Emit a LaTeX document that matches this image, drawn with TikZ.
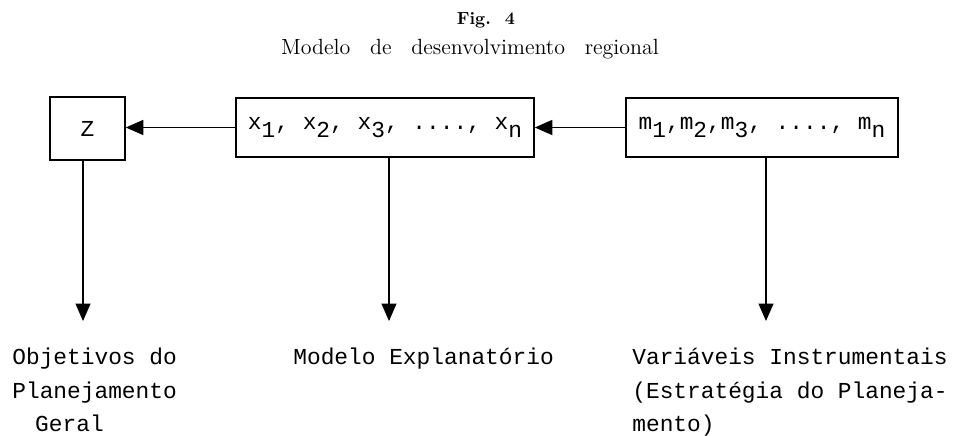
\documentclass[tikz,border=0pt]{standalone}
\usepackage{fontspec}
\setmonofont{Liberation Mono}
\usetikzlibrary{arrows.meta,positioning}
\newcommand\lowsub[1]{\raisebox{-4.5pt}{#1}}
\tikzset{
 box/.style={draw,line width=0.9pt,inner sep=0pt,font=\ttfamily\fontsize{13}{19}\selectfont},
 lbl/.style={inner sep=0pt,align=left,anchor=north west,font=\ttfamily\fontsize{13}{19}\selectfont},
 arr/.style={-{Triangle[length=3.5mm,width=3mm]},line width=0.8pt}
}
\begin{document}
\begin{tikzpicture}[x=0.02cm,y=0.02cm]
\useasboundingbox (0,0) rectangle (960,436);
% title
\node[anchor=base,font=\bfseries\fontsize{10}{12}\selectfont] (fig) at (486,411) {Fig.\hspace{0.8em}4};
\node[anchor=base,font=\fontsize{12.5}{15}\selectfont] (title) at (470,381) {Modelo\hspace{0.9em}de\hspace{0.9em}desenvolvimento\hspace{0.9em}regional};
% boxes
\node[box,minimum width=1.5cm,minimum height=1.26cm] (zbox) at (87.5,307.5) {Z};
\node[box,minimum width=5.96cm,minimum height=1.18cm] (xbox) at (385,308.5)
 {x\lowsub{1}, x\lowsub{2}, x\lowsub{3}, ...., x\lowsub{n}};
\node[box,minimum width=5.44cm,minimum height=1.18cm] (mbox) at (762,308.5)
 {m\lowsub{1},m\lowsub{2},m\lowsub{3}, ...., m\lowsub{n}};
% connectors
\draw[arr] (xbox.west) -- (zbox.east |- xbox.west);
\draw[arr] (mbox.west) -- (xbox.east |- mbox.west);
\coordinate (zend) at (83,115);
\coordinate (xend) at (389,115);
\coordinate (mend) at (766,115);
\draw[arr] (zbox.south -| zend) -- (zend);
\draw[arr] (xbox.south -| xend) -- (xend);
\draw[arr] (mbox.south -| mend) -- (mend);
% labels
\node[lbl] (zlbl) at (12,88) {Objetivos do\\Planejamento\\\hspace*{1em}Geral};
\node[lbl] (xlbl) at (293,88) {Modelo Explanatório};
\node[lbl] (mlbl) at (632,88) {Variáveis Instrumentais\\(Estratégia do Planeja-\\mento)};
\end{tikzpicture}
\end{document}
